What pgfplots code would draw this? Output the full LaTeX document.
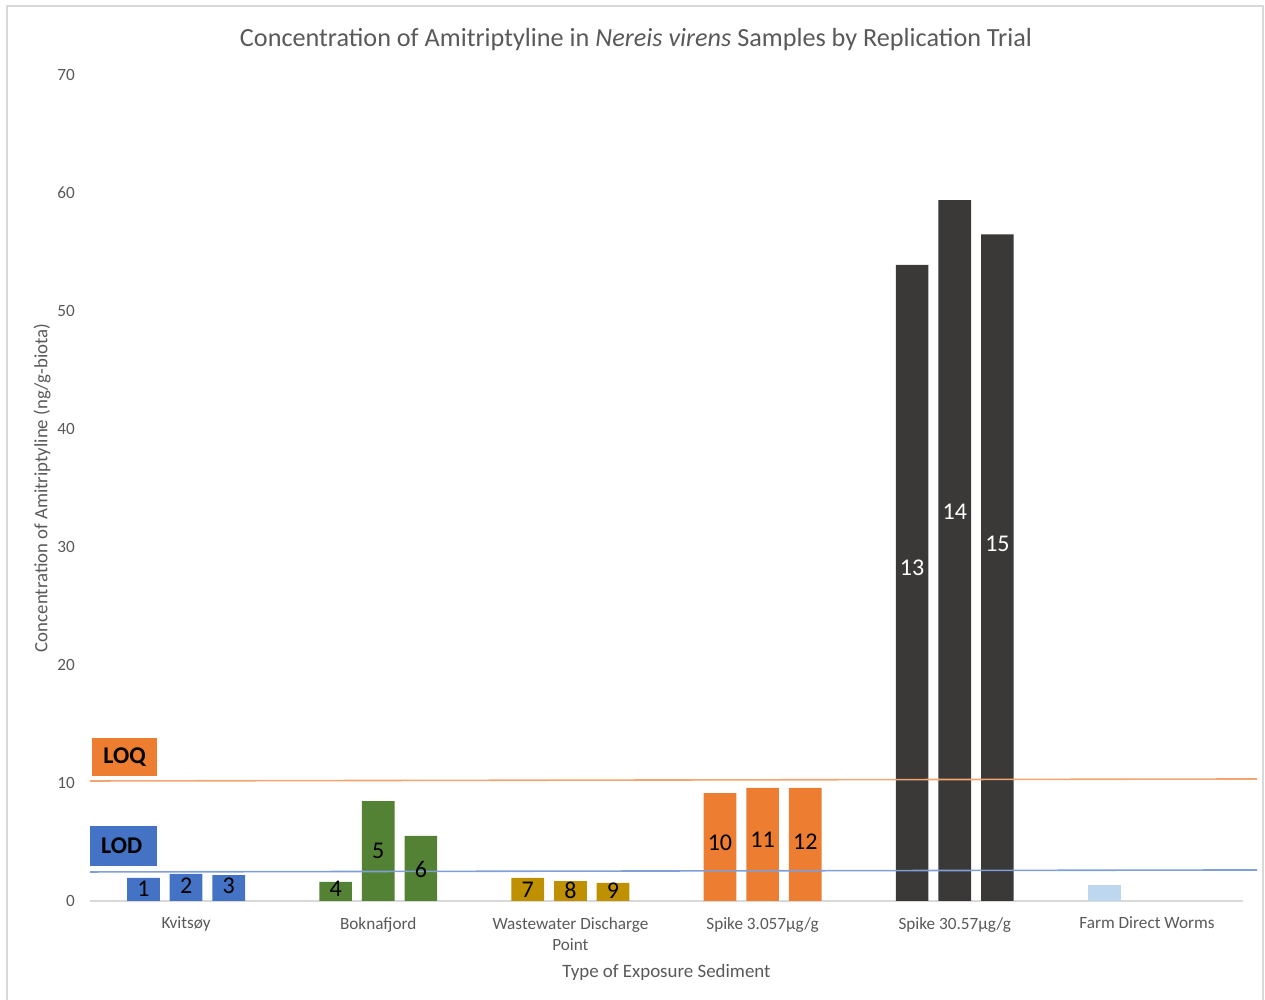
\documentclass[border=0pt]{standalone}
\usepackage{pgfplots}
\pgfplotsset{compat=1.18}
\usepackage{fontspec}
\setmainfont{Carlito}

\definecolor{cblue}{HTML}{4472C4}
\definecolor{cgreen}{HTML}{548235}
\definecolor{cgold}{HTML}{BF9000}
\definecolor{corange}{HTML}{ED7D31}
\definecolor{cdark}{HTML}{3B3838}
\definecolor{clight}{HTML}{BDD7EE}
\definecolor{loqline}{HTML}{F4A46E}
\definecolor{lodline}{HTML}{7F9FD6}
\definecolor{txt}{HTML}{595959}
\definecolor{frame}{HTML}{D9D9D9}

\begin{document}
\begin{tikzpicture}
% page: 1265 x 1000 px, 1 px = 0.5pt
\path[use as bounding box] (0,0) rectangle (632.5pt,500pt);
\draw[frame, line width=1pt] (3.5pt,0) -- (3.5pt,497pt) -- (631.5pt,497pt) -- (631.5pt,0);

\begin{axis}[
  at={(45pt,49.5pt)}, anchor=south west,
  scale only axis,
  width=576.5pt, height=413pt,
  xmin=-0.5, xmax=5.5,
  ymin=0, ymax=70,
  ytick={0,10,...,70},
  xtick={0,...,5},
  xticklabels={Kvitsøy,Boknafjord,Wastewater Discharge\\Point,Spike 3.057µg/g,Spike 30.57µg/g,Farm Direct Worms},
  axis x line*=bottom, axis y line*=left,
  x axis line style={draw=frame, line width=0.9pt, -},
  y axis line style={draw=none},
  major tick length=0pt,
  tick style={draw=none},
  /pgf/number format/assume math mode=true,
  tick label style={font=\fontsize{8.6}{10.5}\selectfont, text=txt},
  xticklabel style={align=center, yshift=-4.5pt},
  yticklabel style={xshift=-4pt},
  title={Concentration of Amitriptyline in \textit{Nereis virens} Samples by Replication Trial},
  title style={font=\fontsize{13.1}{15}\selectfont, text=txt, at={(axis description cs:0.4735,1.028)}, anchor=center},
  xlabel={Type of Exposure Sediment},
  xlabel style={font=\fontsize{9.45}{12}\selectfont, text=txt, at={(axis description cs:0.5,-0.087)}, anchor=center},
  ylabel={Concentration of Amitriptyline (ng/g-biota)},
  ylabel style={font=\fontsize{9.4}{11.5}\selectfont, text=txt, at={(axis description cs:-0.0416,0.5)}, anchor=center},
  clip=false,
  ybar, bar shift=0pt, bar width=0.17,
]
% bars, one plot per sediment group
\addplot[fill=cblue, draw=none] coordinates {(-0.222,1.95) (0,2.29) (0.222,2.2)};
\addplot[fill=cgreen, draw=none] coordinates {(0.778,1.61) (1,8.47) (1.222,5.51)};
\addplot[fill=cgold, draw=none] coordinates {(1.778,1.95) (2,1.69) (2.222,1.53)};
\addplot[fill=corange, draw=none] coordinates {(2.778,9.15) (3,9.58) (3.222,9.58)};
\addplot[fill=cdark, draw=none] coordinates {(3.778,53.9) (4,59.4) (4.222,56.5)};
\addplot[fill=clight, draw=none] coordinates {(4.778,1.36)};

% LOQ / LOD lines
\addplot[sharp plot, loqline, line width=0.8pt, mark=none] coordinates {(-0.5,10.17) (5.573,10.34)};
\addplot[sharp plot, lodline, line width=0.8pt, mark=none] coordinates {(-0.5,2.46) (5.573,2.63)};

% replicate numbers
\addplot[only marks, mark=none, nodes near coords, nodes near coords align=center,
  point meta=explicit symbolic,
  every node near coord/.append style={font=\fontsize{12}{14}\selectfont, text=black}]
  coordinates {(-0.222,1.02) [1] (0,1.27) [2] (0.222,1.27) [3]
               (0.778,1.02) [4] (1,4.24) [5] (1.222,2.71) [6]
               (1.778,0.93) [7] (2,0.93) [8] (2.222,0.85) [9]
               (2.778,4.92) [10] (3,5.17) [11] (3.222,5.0) [12]};
\addplot[only marks, mark=none, nodes near coords, nodes near coords align=center,
  point meta=explicit symbolic,
  every node near coord/.append style={font=\fontsize{12}{14}\selectfont, text=white}]
  coordinates {(3.778,28.2) [13] (4,33.0) [14] (4.222,30.3) [15]};

% LOQ / LOD boxes
\fill[corange] (axis cs:-0.489,10.59) rectangle (axis cs:-0.151,13.81);
\node[font=\bfseries\fontsize{12}{14}\selectfont] at (axis cs:-0.32,12.2) {LOQ};
\fill[cblue] (axis cs:-0.499,2.97) rectangle (axis cs:-0.151,6.36);
\node[font=\bfseries\fontsize{12}{14}\selectfont] at (axis cs:-0.335,4.67) {LOD};
\end{axis}
\end{tikzpicture}
\end{document}
